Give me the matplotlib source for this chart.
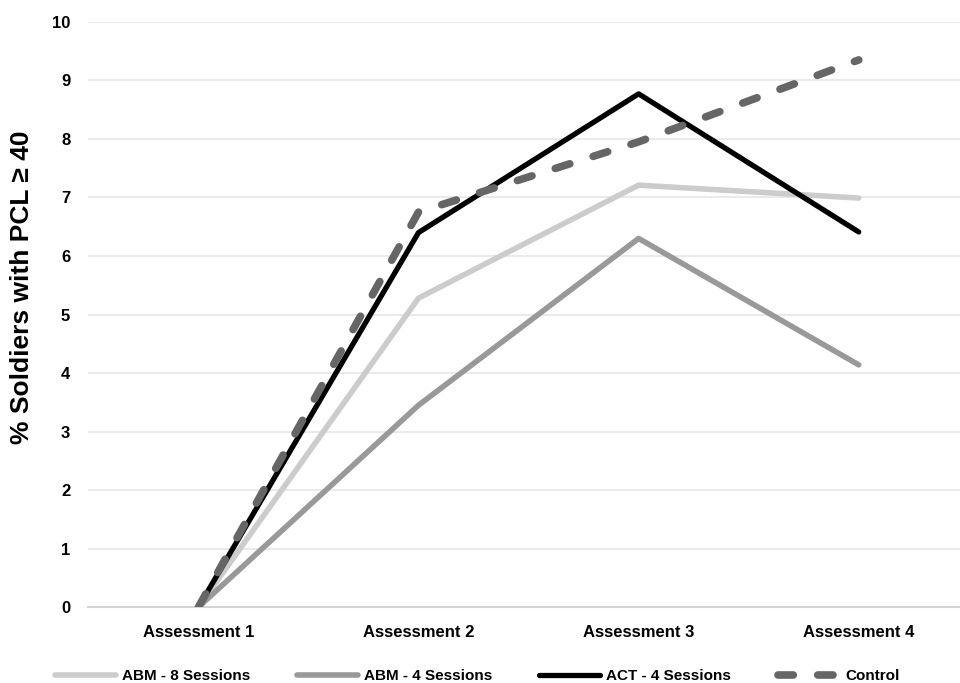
import matplotlib
matplotlib.use("Agg")
import matplotlib.pyplot as plt

categories = ["Assessment 1", "Assessment 2", "Assessment 3", "Assessment 4"]
abm8 = [0, 5.28, 7.21, 6.99]
abm4 = [0, 3.45, 6.3, 4.14]
act4 = [0, 6.4, 8.77, 6.41]
control = [0, 6.75, 7.95, 9.35]
yticks = [0, 1, 2, 3, 4, 5, 6, 7, 8, 9, 10]

plt.rcParams['font.family'] = ['Liberation Sans', 'DejaVu Sans']

fig = plt.figure(figsize=(9.6, 6.83), dpi=100)
ax = fig.add_axes([0.092, 0.111, 0.908, 0.857])
x = list(range(len(categories)))

ax.plot(x, abm8, color="#cccccc", lw=4, label="ABM - 8 Sessions", solid_capstyle="round", zorder=3)
ax.plot(x, abm4, color="#999999", lw=4, label="ABM - 4 Sessions", solid_capstyle="round", zorder=3)
ax.plot(x, act4, color="#000000", lw=3.8, label="ACT - 4 Sessions", solid_capstyle="round", zorder=4)
ax.plot(x, control, color="#666666", lw=5.5, dashes=(2.0, 3.2), dash_capstyle="round",
        label="Control", zorder=5)

ax.set_xlim(-0.5, 3.46)
ax.set_ylim(0, 10)
ax.set_yticks(yticks)
ax.set_xticks(x)
ax.set_xticklabels(categories, fontsize=12, fontweight="bold")
ax.set_yticklabels([str(t) for t in yticks], fontsize=12, fontweight="bold")
ax.grid(axis="y", color="#e6e6e6", lw=1.2)
ax.set_axisbelow(True)
for s in ["top", "right", "left"]:
    ax.spines[s].set_visible(False)
ax.spines["bottom"].set_color("#d4d4d4")
ax.spines["bottom"].set_linewidth(1.5)
ax.tick_params(axis="y", length=0, pad=13)
ax.tick_params(axis="x", length=0, pad=13)
ax.set_ylabel("% Soldiers with PCL ≥ 40", fontsize=19, fontweight="bold", va="center")
ax.yaxis.set_label_coords(-0.0757, 0.547)

leg = fig.legend(loc="center", bbox_to_anchor=(0.497, 0.010), ncol=4, frameon=False,
                 prop={"size": 11, "weight": "bold"}, handlelength=4.0,
                 handletextpad=0.4, columnspacing=3.05)

fig.savefig("out.png", dpi=100)
